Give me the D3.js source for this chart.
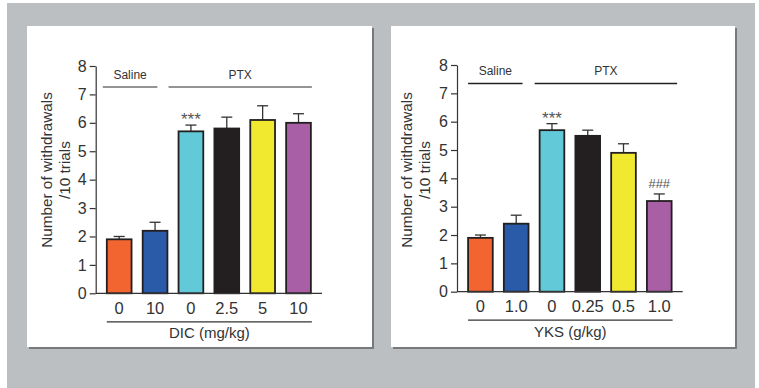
<!DOCTYPE html>
<html>
<head>
<meta charset="utf-8">
<script src="https://cdn.jsdelivr.net/npm/d3@7"></script>
<style>
  body { margin: 0; background: #fff; }
  svg { display: block; font-family: "Liberation Sans", Arial, sans-serif; }
  .axis path, .axis line { stroke: #333; stroke-width: 1.2; }
</style>
</head>
<body>
<div id="chart"></div>
<script>
// data
var colors = ["#f26531", "#2a5ba8", "#62c9d9", "#231f20", "#f0e92f", "#a95fa5"];
var dicDoses = ["0", "10", "0", "2.5", "5", "10"];
var dicMeans = [1.9, 2.2, 5.7, 5.8, 6.1, 6.0];
var dicErr = [0.1, 0.3, 0.22, 0.4, 0.5, 0.32];
var dicMarks = ["", "", "***", "", "", ""];
var yksDoses = ["0", "1.0", "0", "0.25", "0.5", "1.0"];
var yksMeans = [1.9, 2.4, 5.7, 5.5, 4.9, 3.2];
var yksErr = [0.1, 0.3, 0.23, 0.2, 0.32, 0.25];
var yksMarks = ["", "", "***", "", "", "###"];
var yTicks = [0, 1, 2, 3, 4, 5, 6, 7, 8];

var W = 759, H = 388;
var svg = d3.select("#chart").append("svg")
  .attr("width", W).attr("height", H);

// gray backdrop
svg.append("rect").attr("x", 7).attr("y", 3).attr("width", 748).attr("height", 385).attr("fill", "#bcbfc1");

var panels = [
  { box: [27, 26, 345, 321], x0: 95.7, x1: 322, y0: 293.3, y8: 66, doses: dicDoses, means: dicMeans, err: dicErr,
    marks: dicMarks, xlabel: "DIC (mg/kg)", groupY: 87, groupColor: "#707173", yl: 52,
    sal: [-4, -10], ptx: [-10, 1] },
  { box: [391, 26, 344, 321], x0: 457, x1: 682.7, y0: 291.7, y8: 65, doses: yksDoses, means: yksMeans, err: yksErr,
    marks: yksMarks, xlabel: "YKS (g/kg)", groupY: 83.5, groupColor: "#222", yl: 412,
    sal: [0, -6], ptx: [-5, 5.5] }
];

panels.forEach(function(p) {
  var b = p.box;
  // shadow + panel
  svg.append("rect").attr("x", b[0] + 2).attr("y", b[1] + 2).attr("width", b[2]).attr("height", b[3]).attr("fill", "#77797b");
  svg.append("rect").attr("x", b[0]).attr("y", b[1]).attr("width", b[2]).attr("height", b[3]).attr("fill", "#fff");

  var x = d3.scaleBand()
    .domain(d3.range(p.means.length))
    .range([p.x0, p.x1])
    .paddingInner(0.31)
    .paddingOuter(0.31);
  var y = d3.scaleLinear().domain([0, 8]).range([p.y0, p.y8]);

  var g = svg.append("g");

  //error bars (upward only)
  p.means.forEach(function(m, i) {
    var cx = x(i) + x.bandwidth() / 2;
    g.append("line").attr("x1", cx).attr("x2", cx).attr("y1", y(m)).attr("y2", y(m + p.err[i]))
      .attr("stroke", "#333").attr("stroke-width", 1.3);
    g.append("line").attr("x1", cx - 5.5).attr("x2", cx + 5.5).attr("y1", y(m + p.err[i])).attr("y2", y(m + p.err[i]))
      .attr("stroke", "#333").attr("stroke-width", 1.3);
  });

  //bars
  g.selectAll("rect.bar")
    .data(p.means)
    .enter()
    .append("rect")
    .attr("class", "bar")
    .attr("x", function(d, i) { return x(i); })
    .attr("y", function(d) { return y(d); })
    .attr("width", x.bandwidth())
    .attr("height", function(d) { return y(0) - y(d); })
    .attr("fill", function(d, i) { return colors[i]; })
    .attr("stroke", "#231f20")
    .attr("stroke-width", 1.8);

  //significance marks
  g.selectAll("text.mark")
    .data(p.means)
    .enter()
    .append("text")
    .attr("class", "mark")
    .attr("x", function(d, i) { return x(i) + x.bandwidth() / 2; })
    .attr("y", function(d, i) { return y(d + p.err[i]) - (p.marks[i] == "###" ? 5.5 : 0); })
    .attr("text-anchor", "middle")
    .attr("fill", "#555")
    .attr("font-size", function(d, i) { return p.marks[i] == "###" ? "13px" : "17px"; })
    .text(function(d, i) { return p.marks[i]; });

  //axes
  svg.append("g")
    .attr("class", "axis")
    .attr("transform", "translate(" + p.x0 + ",0)")
    .call(d3.axisLeft(y).tickValues(yTicks).tickSize(6).tickSizeOuter(0).tickPadding(3))
    .attr("font-family", null)
    .attr("font-size", "16px")
    .selectAll("text").attr("fill", "#333");
  svg.append("g")
    .attr("class", "axis")
    .attr("transform", "translate(0," + p.y0 + ")")
    .call(d3.axisBottom(x).tickSize(0).tickSizeOuter(0).tickPadding(8.5).tickFormat(function(i) { return p.doses[i]; }))
    .attr("font-family", null)
    .attr("font-size", "16.5px")
    .call(function(a) { a.selectAll("text").attr("fill", "#333"); })
    .select(".domain").attr("d", "M" + p.x0 + ",0H" + p.x1);

  //group brackets
  var bw = x.bandwidth();
  var groups = [
    [x(0) + p.sal[0], x(1) + bw + p.sal[1], "Saline"],
    [x(2) + p.ptx[0], x(5) + bw + p.ptx[1], "PTX"]
  ];
  groups.forEach(function(s) {
    svg.append("line").attr("x1", s[0]).attr("x2", s[1]).attr("y1", p.groupY).attr("y2", p.groupY)
      .attr("stroke", p.groupColor).attr("stroke-width", 1.3);
    svg.append("text").attr("x", (s[0] + s[1]) / 2).attr("y", p.groupY - 8.5)
      .attr("text-anchor", "middle").attr("fill", "#333").attr("font-size", "12px").text(s[2]);
  });

  //x label bracket
  var lx1 = x(0), lx2 = x(5) + bw + 1;
  svg.append("line").attr("x1", lx1).attr("x2", lx2).attr("y1", p.y0 + 28.5).attr("y2", p.y0 + 28.5)
    .attr("stroke", "#333").attr("stroke-width", 1.2);
  svg.append("text").attr("x", (lx1 + lx2) / 2).attr("y", p.y0 + 45)
    .attr("text-anchor", "middle").attr("fill", "#333").attr("font-size", "15px").text(p.xlabel);

  //y label
  var lab = svg.append("text")
    .attr("transform", "translate(" + p.yl + ",170) rotate(-90)")
    .attr("text-anchor", "middle").attr("fill", "#333").attr("font-size", "15.3px");
  lab.append("tspan").attr("x", 0).attr("y", 0).text("Number of withdrawals");
  lab.append("tspan").attr("x", 0).attr("y", 18).text("/10 trials");
});
</script>
</body>
</html>
